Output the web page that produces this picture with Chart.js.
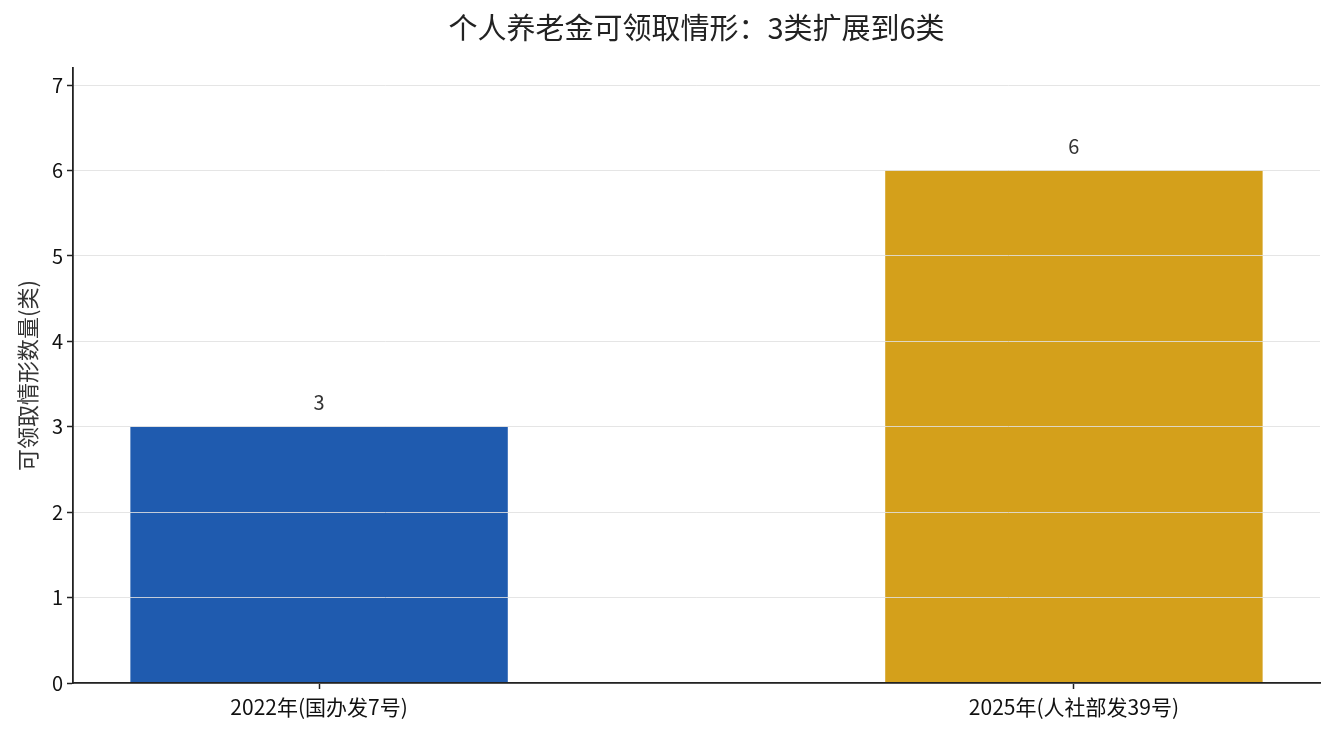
<!DOCTYPE html>
<html>
<head>
    <meta charset="utf-8">
    <title>个人养老金可领取情形</title>
    <script src="https://cdn.jsdelivr.net/npm/chart.js"></script>
    <style>
        body { margin: 0; background: #fff; }
        #wrap { width: 1335px; height: 735px; }
    </style>
</head>
<body>
    <div id="wrap">
        <canvas id="myChart"></canvas>
    </div>
    <script>
        const chartTitle = '个人养老金可领取情形：3类扩展到6类';
        const categories = ['2022年(国办发7号)', '2025年(人社部发39号)'];
        const counts = [3, 6];
        const barColors = ['#1f5baf', '#d4a01b'];
        const yTicks = [0, 1, 2, 3, 4, 5, 6, 7];

        const FONT = '"Noto Sans CJK SC", "Noto Sans", sans-serif';

        // value labels above each bar + title centred over the plot area
        const extras = {
            id: 'extras',
            afterDatasetsDraw(chart) {
                const ctx = chart.ctx;
                const meta = chart.getDatasetMeta(0);
                ctx.save();
                ctx.font = '20px ' + FONT;
                ctx.fillStyle = '#333333';
                ctx.textAlign = 'center';
                ctx.textBaseline = 'middle';
                meta.data.forEach((bar, i) => {
                    ctx.fillText(String(counts[i]), bar.x, bar.y - 24);
                });
                ctx.restore();
            },
            afterDraw(chart) {
                const ctx = chart.ctx;
                const area = chart.chartArea;
                ctx.save();
                ctx.font = '29px ' + FONT;
                ctx.fillStyle = '#222222';
                ctx.textAlign = 'center';
                ctx.textBaseline = 'middle';
                ctx.fillText(chartTitle, (area.left + area.right) / 2, 28);
                ctx.restore();
            }
        };

        const ctx = document.getElementById('myChart').getContext('2d');
        const myChart = new Chart(ctx, {
            type: 'bar',
            data: {
                datasets: [{
                    data: counts.map((v, i) => ({ x: i, y: v })),
                    backgroundColor: barColors,
                    borderWidth: 0,
                    barPercentage: 0.5,
                    categoryPercentage: 1.0
                }]
            },
            options: {
                responsive: true,
                maintainAspectRatio: false,
                animation: false,
                layout: { padding: { left: 14, right: 15, top: 68, bottom: 0 } },
                plugins: {
                    legend: { display: false },
                    tooltip: { enabled: false },
                    title: { display: false }
                },
                scales: {
                    x: {
                        type: 'linear',
                        offset: false,
                        min: -0.326,
                        max: 1.326,
                        afterBuildTicks: (scale) => {
                            scale.ticks = categories.map((c, i) => ({ value: i }));
                        },
                        afterFit: (scale) => { scale.height = 52; },
                        ticks: {
                            callback: (v) => categories[v],
                            color: '#111111',
                            font: { family: FONT, size: 21 },
                            padding: 5,
                            maxRotation: 0
                        },
                        grid: {
                            offset: false,
                            drawOnChartArea: false,
                            drawTicks: true,
                            tickLength: 6,
                            tickColor: '#222222',
                            tickWidth: 1.5
                        },
                        border: { color: '#222222', width: 1.8, z: 2 }
                    },
                    y: {
                        min: 0,
                        max: 7.2,
                        afterBuildTicks: (scale) => {
                            scale.ticks = yTicks.map(v => ({ value: v }));
                        },
                        afterFit: (scale) => { scale.width = 59; },
                        ticks: {
                            color: '#111111',
                            font: { family: FONT, size: 20 },
                            padding: 4
                        },
                        grid: {
                            z: 1,
                            color: 'rgba(225, 225, 225, 0.85)',
                            lineWidth: 1,
                            drawTicks: true,
                            tickLength: 6,
                            tickColor: '#222222',
                            tickWidth: 1.5
                        },
                        border: { color: '#222222', width: 1.8, z: 2 },
                        title: {
                            display: true,
                            text: '可领取情形数量(类)',
                            color: '#333333',
                            font: { family: FONT, size: 22 },
                            padding: 0
                        }
                    }
                }
            },
            plugins: [extras]
        });
    </script>
</body>
</html>
